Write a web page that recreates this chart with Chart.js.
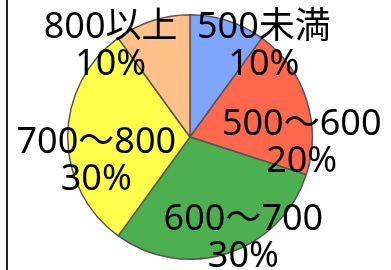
<!DOCTYPE html>
<html lang="ja">
<head>
    <meta charset="UTF-8">
    <title>価格帯の割合</title>
    <script src="https://cdn.jsdelivr.net/npm/chart.js"></script>
    <style>
        html, body {
            margin: 0;
            padding: 0;
            background: #fff;
        }
        #wrap {
            position: relative;
            width: 391px;
            height: 270px;
        }
        #edge {
            position: absolute;
            left: 6px;
            top: 0;
            width: 2px;
            height: 270px;
            background: #222;
        }
    </style>
</head>
<body>
    <div id="wrap">
        <div id="edge"></div>
        <canvas id="pieChart" width="391" height="270"></canvas>
    </div>

    <script>
        // データ
        const categories = ['500未満', '500〜600', '600〜700', '700〜800', '800以上'];
        const values = [10, 20, 30, 30, 10];
        const sliceColors = ['#7fa6ff', '#ff684c', '#4caf50', '#ffff4c', '#ffc08a'];

        // ラベル位置の微調整 (中央角からのずれ[度], 半径に対する比率)
        const labelShift = [21, 21, -10, -14, -23];
        const labelDist = [0.96, 0.915, 0.93, 0.79, 0.99];

        const total = values.reduce((a, b) => a + b, 0);

        const sliceLabels = {
            id: 'sliceLabels',
            afterDatasetsDraw(chart) {
                const ctx = chart.ctx;
                const arcs = chart.getDatasetMeta(0).data;
                ctx.save();
                ctx.fillStyle = '#000';
                ctx.font = '36px "Noto Sans", "Noto Sans CJK JP", sans-serif';
                ctx.textAlign = 'center';
                ctx.textBaseline = 'middle';
                arcs.forEach((arc, i) => {
                    const p = arc.getProps(['x', 'y', 'startAngle', 'endAngle', 'outerRadius'], true);
                    const a = (p.startAngle + p.endAngle) / 2 + labelShift[i] * Math.PI / 180;
                    const r = p.outerRadius * labelDist[i];
                    const x = p.x + Math.cos(a) * r;
                    const y = p.y + Math.sin(a) * r;
                    const pct = Math.round(values[i] / total * 100) + '%';
                    ctx.fillText(categories[i], x, y - 18);
                    ctx.fillText(pct, x, y + 19);
                });
                ctx.restore();
            }
        };

        new Chart(document.getElementById('pieChart').getContext('2d'), {
            type: 'pie',
            data: {
                labels: categories,
                datasets: [{
                    data: values,
                    backgroundColor: sliceColors,
                    borderColor: '#555',
                    borderWidth: 1.5
                }]
            },
            options: {
                responsive: false,
                animation: false,
                layout: {
                    padding: { top: 14, bottom: 10, left: 0, right: 11 }
                },
                plugins: {
                    legend: { display: false },
                    tooltip: { enabled: false }
                }
            },
            plugins: [sliceLabels]
        });
    </script>
</body>
</html>
